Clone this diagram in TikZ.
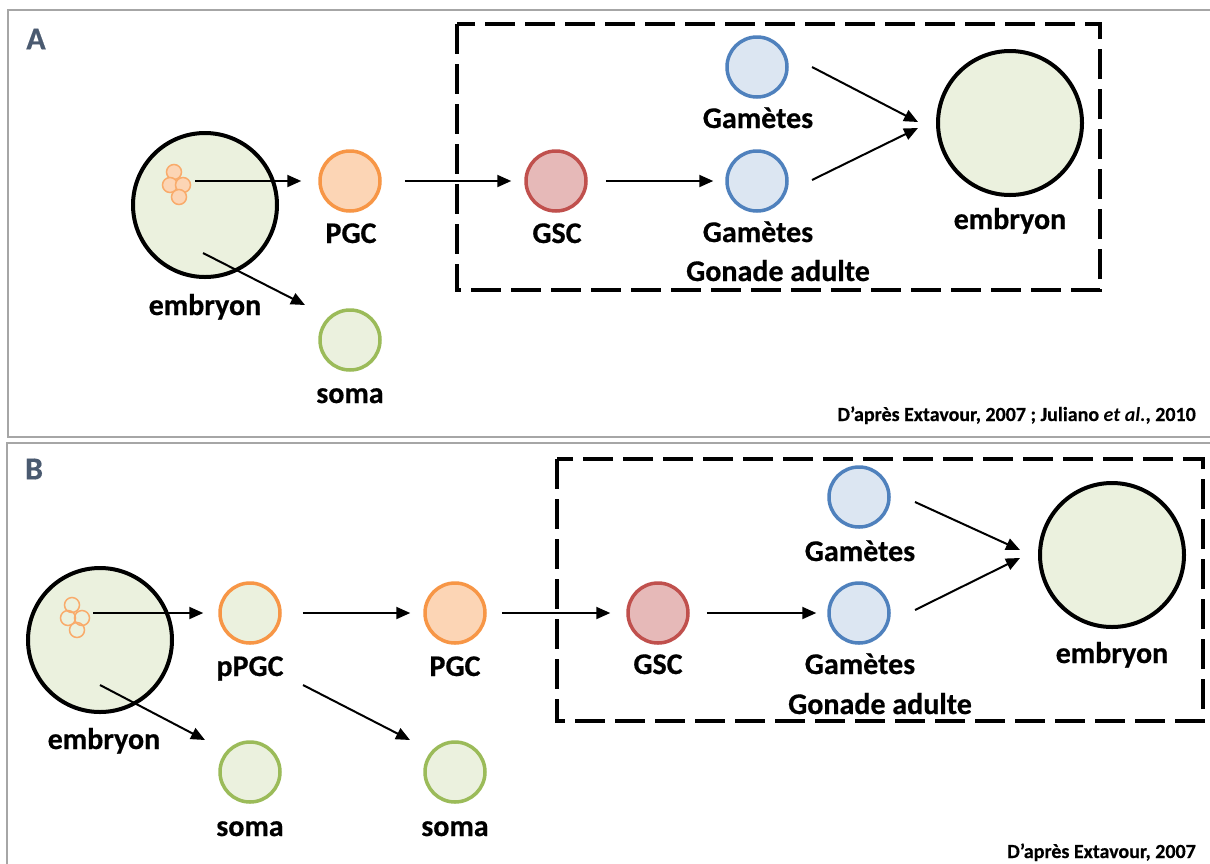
\documentclass[tikz,border=0pt]{standalone}
\usepackage{fontspec}
\setmainfont{Carlito}
\newfontfamily\heavy{Carlito}[BoldFeatures={FakeBold=0.5}]
\usetikzlibrary{arrows.meta}
\definecolor{gfill}{HTML}{EBF1DE}
\definecolor{gdraw}{HTML}{9BBB59}
\definecolor{ofill}{HTML}{FCD5B5}
\definecolor{odraw}{HTML}{F79646}
\definecolor{rfill}{HTML}{E6B9B8}
\definecolor{rdraw}{HTML}{C0504D}
\definecolor{bfill}{HTML}{DCE6F2}
\definecolor{bdraw}{HTML}{4F81BD}
\definecolor{framegray}{HTML}{A6A6A6}
\definecolor{panelcol}{HTML}{4A5A70}
\tikzset{
  cell/.style={circle, minimum size=60pt, inner sep=0pt, line width=3.5pt},
  pgccell/.style={cell, draw=odraw, fill=ofill},
  ppgccell/.style={cell, draw=odraw, fill=gfill},
  gsccell/.style={cell, draw=rdraw, fill=rfill},
  gamcell/.style={cell, draw=bdraw, fill=bfill},
  somacell/.style={cell, draw=gdraw, fill=gfill},
  bigcell/.style={circle, minimum size=144pt, inner sep=0pt, line width=4pt, draw=black, fill=gfill},
  tiny/.style={circle, minimum size=15pt, inner sep=0pt, line width=1.5pt, draw=odraw!80},
  lbl/.style={font=\fontsize{30}{32}\selectfont\heavy\bfseries, inner sep=0pt, anchor=base},
  credit/.style={font=\fontsize{20}{22}\selectfont\heavy\bfseries, inner sep=0pt, anchor=base east},
  panel/.style={font=\fontsize{32}{34}\selectfont\heavy\bfseries, inner sep=0pt, text=panelcol},
  arr/.style={line width=2pt, -{Triangle[length=14pt,width=12pt]}},
  harr/.style={arr, shorten <=19pt, shorten >=14pt},
  gbox/.style={line width=4pt, dash pattern=on 30pt off 10pt},
  pframe/.style={draw=framegray, line width=2pt}
}
\begin{document}
\begin{tikzpicture}[x=1pt,y=-1pt]
\useasboundingbox (0,0) rectangle (1210,863);
\fill[white] (0,0) rectangle (1210,863);
% frames
\draw[pframe] (1230,10) -- (8,10) -- (8,437) -- (1230,437);
\draw[pframe] (1230,443) -- (7,443) -- (7,880);
% ---------------- Panel A ----------------
\node[panel] (labA) at (36,39) {A};
\draw[gbox] (457,24) rectangle (1100,290);
\node[bigcell] (embA) at (205,205) {};
\node[tiny, fill=ofill] (ca1) at (174,172) {};
\node[tiny, fill=ofill] (ca2) at (170,185) {};
\node[tiny, fill=ofill] (ca3) at (183,185) {};
\node[tiny, fill=ofill] (ca4) at (179,197) {};
\coordinate (stA) at (195,181);
\node[pgccell] (pgcA) at (350,181) {};
\node[somacell] (somaA) at (350,340) {};
\node[gsccell] (gscA) at (556,181) {};
\node[gamcell] (gamA2) at (757,181) {};
\node[gamcell] (gamA1) at (757,67) {};
\node[bigcell] (embA2) at (1010,123) {};
\node[lbl] (tembA) at (205,315) {embryon};
\node[lbl] (tpgcA) at (351,243) {PGC};
\node[lbl] (tsomaA) at (350,403) {soma};
\node[lbl] (tgscA) at (557,243) {GSC};
\node[lbl] (tgamA2) at (758,242) {Gamètes};
\node[lbl] (tgamA1) at (758,128) {Gamètes};
\node[lbl] (tembA2) at (1010,229) {embryon};
\node[lbl] (tgonA) at (778,281) {Gonade adulte};
\node[credit] (credA) at (1196,421) {D’après Extavour, 2007 ; Juliano \textit{et al.}, 2010};
\draw[arr, shorten >=17pt] (stA) -- (pgcA.west);
\draw[harr, shorten <=23pt, shorten >=13pt] (pgcA.east) -- (gscA.west);
\draw[harr, shorten <=18pt, shorten >=12pt] (gscA.east) -- (gamA2.west);
\coordinate (dA1s) at (203,253); \coordinate (dA1e) at (305,305);
\draw[arr] (dA1s) -- (dA1e);
\coordinate (dA2s) at (812,67); \coordinate (dA2e) at (918,122);
\coordinate (dA3s) at (812,180); \coordinate (dA3e) at (918,128);
\draw[arr] (dA2s) -- (dA2e);
\draw[arr] (dA3s) -- (dA3e);
% ---------------- Panel B ----------------
\node[panel] (labB) at (34,469) {B};
\draw[gbox] (557,459) rectangle (1203,721);
\node[bigcell] (embB) at (100,640) {};
\node[tiny] (cb1) at (72,605) {};
\node[tiny] (cb2) at (68,618) {};
\node[tiny] (cb3) at (82,618) {};
\node[tiny] (cb4) at (77,630) {};
\coordinate (stB) at (93,613);
\node[ppgccell] (ppgcB) at (250,613) {};
\node[pgccell] (pgcB) at (455,613) {};
\node[gsccell] (gscB) at (658,613) {};
\node[gamcell] (gamB2) at (859,613) {};
\node[gamcell] (gamB1) at (859,497) {};
\node[bigcell] (embB2) at (1112,555) {};
\node[somacell] (somaB1) at (250,772) {};
\node[somacell] (somaB2) at (455,772) {};
\node[lbl] (tembB) at (104,749) {embryon};
\node[lbl] (tppgcB) at (250,676) {pPGC};
\node[lbl] (tpgcB) at (455,676) {PGC};
\node[lbl] (tgscB) at (658,674) {GSC};
\node[lbl] (tgamB2) at (860,674) {Gamètes};
\node[lbl] (tgamB1) at (860,561) {Gamètes};
\node[lbl] (tembB2) at (1112,663) {embryon};
\node[lbl] (tgonB) at (880,714) {Gonade adulte};
\node[lbl] (tsomaB1) at (250,836) {soma};
\node[lbl] (tsomaB2) at (455,836) {soma};
\node[credit] (credB) at (1196,858) {D’après Extavour, 2007};
\draw[arr, shorten >=15pt] (stB) -- (ppgcB.west);
\draw[harr, shorten <=21pt, shorten >=13pt] (ppgcB.east) -- (pgcB.west);
\draw[harr, shorten <=15pt, shorten >=16pt] (pgcB.east) -- (gscB.west);
\draw[harr, shorten <=17pt, shorten >=11pt] (gscB.east) -- (gamB2.west);
\coordinate (dB1s) at (100,685); \coordinate (dB1e) at (205,740);
\coordinate (dB2s) at (303,685); \coordinate (dB2e) at (410,740);
\coordinate (dB3s) at (915,502); \coordinate (dB3e) at (1020,550);
\coordinate (dB4s) at (915,610); \coordinate (dB4e) at (1020,558);
\draw[arr] (dB1s) -- (dB1e);
\draw[arr] (dB2s) -- (dB2e);
\draw[arr] (dB3s) -- (dB3e);
\draw[arr] (dB4s) -- (dB4e);
\end{tikzpicture}
\end{document}
